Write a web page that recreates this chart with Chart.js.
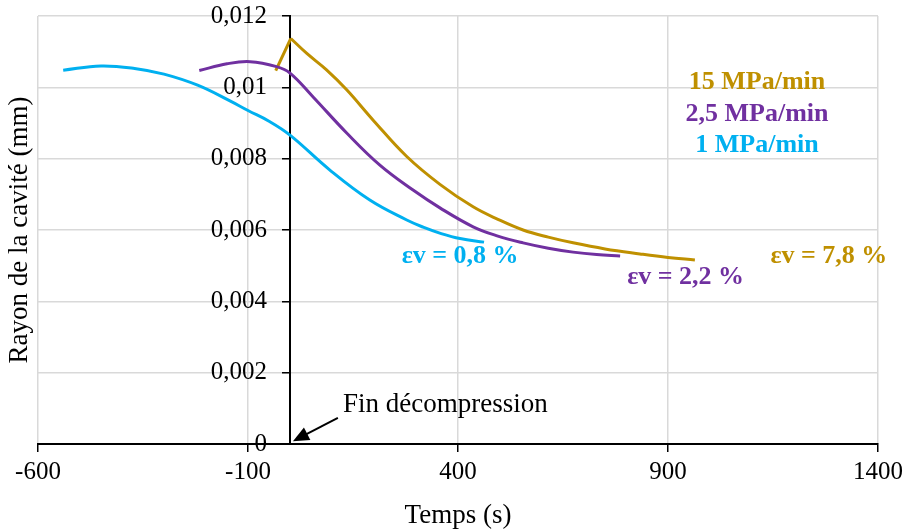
<!DOCTYPE html>
<html lang="fr">
<head>
<meta charset="UTF-8">
<title>Rayon de la cavité</title>
<script src="https://cdn.jsdelivr.net/npm/chart.js@4.4.1/dist/chart.umd.min.js"></script>
</head>
<body style="margin:0; background:#ffffff;">
<canvas id="chart" width="907" height="532"></canvas>
<script>
// Valeurs : temps (s) / rayon de la cavité (mm)
const temps1 = [-540, -450, -370, -300, -220, -143, -100, -50, 0, 95, 190, 278, 317, 360, 405, 462];
const rayon1 = [0.01048, 0.0106, 0.01053, 0.01037, 0.01006, 0.00962, 0.00935, 0.00905, 0.00866, 0.00768, 0.00684, 0.00628, 0.00608, 0.0059, 0.00576, 0.00566];

const temps25 = [-216, -150, -95, -32, 0, 55, 135, 214, 293, 357, 436, 495, 555, 615, 674, 730, 786];
const rayon25 = [0.01047, 0.01066, 0.01072, 0.01058, 0.0104, 0.00973, 0.00872, 0.00782, 0.00712, 0.00662, 0.00609, 0.00583, 0.00564, 0.00549, 0.00538, 0.00531, 0.00527];

const temps15 = [-34, 2, 40, 87, 135, 198, 278, 357, 436, 495, 555, 615, 674, 750, 833, 900, 964];
const rayon15 = [0.01047, 0.01137, 0.01095, 0.01049, 0.00993, 0.00908, 0.00806, 0.00728, 0.00665, 0.0063, 0.006, 0.0058, 0.00564, 0.00547, 0.00533, 0.00523, 0.00516];

const series = ['1 MPa/min', '2,5 MPa/min', '15 MPa/min'];
const deformations = ['εv = 0,8 %', 'εv = 2,2 %', 'εv = 7,8 %'];
const xTickLabels = ['-600', '-100', '400', '900', '1400'];
const yTickLabels = ['0', '0,002', '0,004', '0,006', '0,008', '0,01', '0,012'];

const BLEU = '#00B0F0';
const VIOLET = '#7030A0';
const OR = '#BF9000';
const FONT = '"Liberation Serif", "Times New Roman", serif';

function points(xs, ys) {
  return xs.map((t, i) => ({ x: t, y: ys[i] }));
}

function serie(label, xs, ys, color, tension) {
  return {
    label: label,
    data: points(xs, ys),
    borderColor: color,
    borderWidth: 3,
    pointRadius: 0,
    fill: false,
    tension: tension
  };
}

// graduations, textes et flèche
const annotations = {
  id: 'annotations',
  afterDraw(chart) {
    const { ctx, chartArea, scales: { x, y } } = chart;
    ctx.save();
    ctx.fillStyle = '#000';
    ctx.font = '25px ' + FONT;

    // axe vertical placé en t = 0, graduations à sa gauche
    ctx.textAlign = 'right';
    ctx.textBaseline = 'middle';
    const axeX = x.getPixelForValue(0);
    y.ticks.forEach((t, i) => {
      ctx.fillText(yTickLabels[i], axeX - 23, y.getPixelForValue(t.value));
    });

    // graduations de l'axe horizontal
    ctx.textAlign = 'center';
    x.ticks.forEach((t, i) => {
      ctx.fillText(xTickLabels[i], x.getPixelForValue(t.value), chartArea.bottom + 28);
    });

    ctx.font = 'bold 26px ' + FONT;
    ctx.fillStyle = OR;
    ctx.fillText(series[2], x.getPixelForValue(1112), y.getPixelForValue(0.01015));
    ctx.fillStyle = VIOLET;
    ctx.fillText(series[1], x.getPixelForValue(1112), y.getPixelForValue(0.00925));
    ctx.fillStyle = BLEU;
    ctx.fillText(series[0], x.getPixelForValue(1112), y.getPixelForValue(0.00838));

    ctx.fillStyle = BLEU;
    ctx.fillText(deformations[0], x.getPixelForValue(405), y.getPixelForValue(0.00527));
    ctx.fillStyle = VIOLET;
    ctx.fillText(deformations[1], x.getPixelForValue(942), y.getPixelForValue(0.00468));
    ctx.fillStyle = OR;
    ctx.fillText(deformations[2], x.getPixelForValue(1283), y.getPixelForValue(0.00527));

    // Fin décompression + flèche
    ctx.font = '27px ' + FONT;
    ctx.fillStyle = '#000';
    ctx.textAlign = 'left';
    ctx.fillText('Fin décompression', x.getPixelForValue(126), y.getPixelForValue(0.00109));

    const x0 = x.getPixelForValue(114), y0 = y.getPixelForValue(0.00073);
    const x1 = x.getPixelForValue(7), y1 = y.getPixelForValue(0.00008);
    const ang = Math.atan2(y1 - y0, x1 - x0);
    const c = Math.cos(ang), s = Math.sin(ang);
    ctx.strokeStyle = '#000';
    ctx.lineWidth = 2;
    ctx.beginPath();
    ctx.moveTo(x0, y0);
    ctx.lineTo(x1 - 12 * c, y1 - 12 * s);
    ctx.stroke();
    ctx.beginPath();
    ctx.moveTo(x1, y1);
    ctx.lineTo(x1 - 16 * c + 7 * s, y1 - 16 * s - 7 * c);
    ctx.lineTo(x1 - 16 * c - 7 * s, y1 - 16 * s + 7 * c);
    ctx.closePath();
    ctx.fill();

    // titres des axes
    ctx.textAlign = 'center';
    ctx.font = '27px ' + FONT;
    ctx.fillText('Temps (s)', (chartArea.left + chartArea.right) / 2, 516);
    ctx.translate(20, 230);
    ctx.rotate(-Math.PI / 2);
    ctx.fillText('Rayon de la cavité (mm)', 0, 0);
    ctx.restore();
  }
};

new Chart(document.getElementById('chart'), {
  type: 'line',
  data: {
    datasets: [
      serie(series[0], temps1, rayon1, BLEU, 0.4),
      serie(series[1], temps25, rayon25, VIOLET, 0.4),
      // montée brusque jusqu'à la fin de décompression, puis décroissance lissée
      serie(series[2], temps15.slice(0, 2), rayon15.slice(0, 2), OR, 0),
      serie(series[2], temps15.slice(1), rayon15.slice(1), OR, 0.4)
    ]
  },
  options: {
    responsive: false,
    animation: false,
    layout: { padding: { left: 38, right: 29, top: 16, bottom: 88 } },
    plugins: {
      legend: { display: false },
      tooltip: { enabled: false }
    },
    scales: {
      x: {
        type: 'linear',
        position: { y: 0 },
        min: -600,
        max: 1400,
        ticks: { stepSize: 500, display: false },
        grid: { color: '#d9d9d9', lineWidth: 1.5, tickColor: '#000', tickLength: 7 },
        border: { color: '#000', width: 2 }
      },
      y: {
        type: 'linear',
        position: { x: 0 },
        min: 0,
        max: 0.012,
        ticks: { stepSize: 0.002, display: false },
        grid: { color: '#d9d9d9', lineWidth: 1.5, tickColor: '#000', tickLength: 7 },
        border: { color: '#000', width: 2 }
      }
    }
  },
  plugins: [annotations]
});
</script>
</body>
</html>
